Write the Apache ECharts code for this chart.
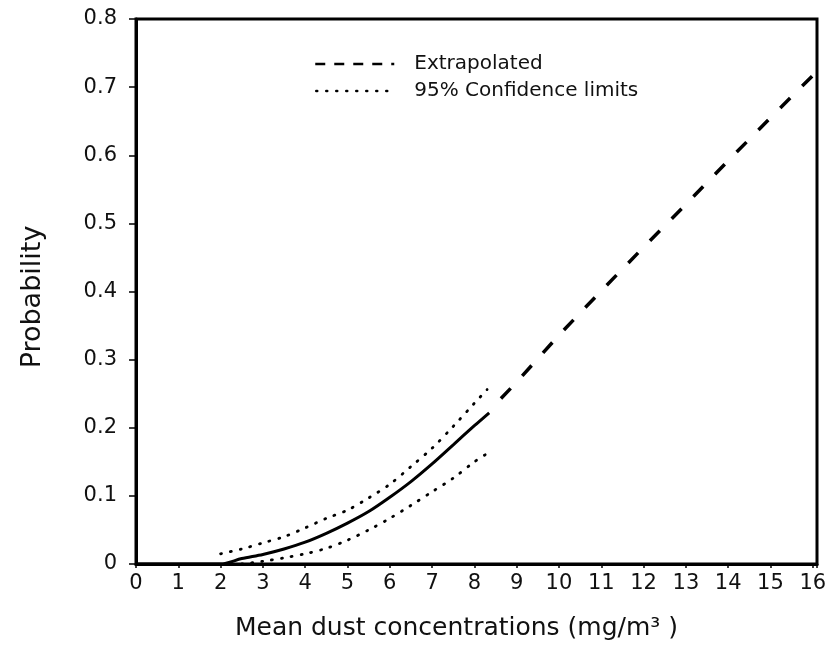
<!DOCTYPE html>
<html>
<head>
<meta charset="utf-8">
<script src="https://cdn.jsdelivr.net/npm/echarts@6/dist/echarts.min.js"></script>
<style>
html,body{margin:0;padding:0;background:#fff;}
#chart{width:837px;height:647px;}
</style>
</head>
<body>
<div id="chart"></div>
<script>
// Fitted curve (solid)
var fitX = [0, 1, 2, 2.5, 3, 3.5, 4, 4.5, 5, 5.5, 6, 6.5, 7, 7.5, 8, 8.35];
var fitY = [0, 0, 0, 0.008, 0.014, 0.022, 0.032, 0.045, 0.060, 0.077, 0.098, 0.121, 0.147, 0.175, 0.203, 0.222];
// Extrapolated (dashed)
var extX = [8.35, 9, 10, 11, 12, 13, 14, 15, 16, 16.1];
var extY = [0.225, 0.267, 0.336, 0.401, 0.465, 0.528, 0.592, 0.655, 0.717, 0.723];
// 95% confidence limits (dotted)
var upX = [2, 2.5, 3, 3.5, 4, 4.5, 5, 5.5, 6, 6.5, 7, 7.5, 8, 8.3];
var upY = [0.015, 0.022, 0.031, 0.040, 0.053, 0.067, 0.079, 0.097, 0.117, 0.143, 0.170, 0.202, 0.236, 0.256];
var loX = [2.5, 3, 3.5, 4, 4.5, 5, 5.5, 6, 6.5, 7, 7.5, 8, 8.3];
var loY = [0.0, 0.004, 0.009, 0.015, 0.023, 0.035, 0.050, 0.067, 0.086, 0.106, 0.126, 0.150, 0.162];

var legendNames = ['Extrapolated', '95% Confidence limits'];
var xTitle = 'Mean dust concentrations (mg/m\u00B3 )';
var yTitle = 'Probability';

function zip(xs, ys) { return xs.map(function (x, i) { return [x, ys[i]]; }); }

var FONT = 'DejaVu Sans';
var TXT = '#111';
var HIDE = {color: 'rgba(0,0,0,0)', borderWidth: 0, opacity: 0};

var chart = echarts.init(document.getElementById('chart'), null, {renderer: 'canvas'});
chart.setOption({
  animation: false,
  backgroundColor: '#fff',
  grid: {left: 136, right: 20, top: 19, bottom: 83, show: true, borderColor: '#000', borderWidth: 3, backgroundColor: 'transparent'},
  legend: {
    orient: 'vertical', left: 309, top: 54, padding: 0,
    itemWidth: 84, itemHeight: 14, itemGap: 7,
    textStyle: {fontFamily: FONT, fontSize: 20, color: TXT, padding: [0, 0, 0, 15]},
    data: [
      {name: legendNames[0], itemStyle: HIDE, lineStyle: {type: [10, 9], width: 2.5, color: '#000'}},
      {name: legendNames[1], itemStyle: HIDE, lineStyle: {type: [1, 9], width: 2.5, cap: 'round', color: '#000'}}
    ]
  },
  xAxis: {
    type: 'value', min: 0, max: 16.1, interval: 1,
    name: xTitle, nameLocation: 'middle', nameGap: 52,
    nameTextStyle: {fontFamily: FONT, fontSize: 25, color: TXT, padding: [0, 40, 0, 0]},
    axisLine: {show: true, lineStyle: {color: '#000', width: 3}},
    axisTick: {show: true, length: 4, lineStyle: {color: '#000', width: 1.5}},
    axisLabel: {fontFamily: FONT, fontSize: 21, color: TXT, margin: 9,
      formatter: function (v) { return Math.abs(v - Math.round(v)) < 1e-6 ? String(Math.round(v)) : ''; }},
    splitLine: {show: false}
  },
  yAxis: {
    type: 'value', min: 0, max: 0.8, interval: 0.1,
    name: yTitle, nameLocation: 'middle', nameGap: 90, nameRotate: 90,
    nameTextStyle: {fontFamily: FONT, fontSize: 27, color: TXT, padding: [0, 11, 0, 0]},
    axisLine: {show: true, lineStyle: {color: '#000', width: 3}},
    axisTick: {show: true, length: 7, lineStyle: {color: '#000', width: 1.5}},
    axisLabel: {fontFamily: FONT, fontSize: 21, color: TXT, margin: 19,
      formatter: function (v) { return v === 0 ? '0' : v.toFixed(1); }},
    splitLine: {show: false}
  },
  series: [
    {name: 'Fitted', type: 'line', data: zip(fitX, fitY), symbol: 'none', smooth: 0.3,
      lineStyle: {color: '#000', width: 3}, z: 3},
    {name: legendNames[0], type: 'line', data: zip(extX, extY), symbol: 'none',
      lineStyle: {color: '#000', width: 3.5, type: [14, 17], dashOffset: 14}, z: 3},
    {name: legendNames[1], type: 'line', data: zip(upX, upY), symbol: 'none', smooth: 0.3,
      lineStyle: {color: '#000', width: 2.8, type: [1, 9], cap: 'round'}, z: 3},
    {name: legendNames[1], type: 'line', data: zip(loX, loY), symbol: 'none', smooth: 0.3,
      lineStyle: {color: '#000', width: 2.8, type: [1, 9], cap: 'round'}, z: 3}
  ]
});
</script>
</body>
</html>
